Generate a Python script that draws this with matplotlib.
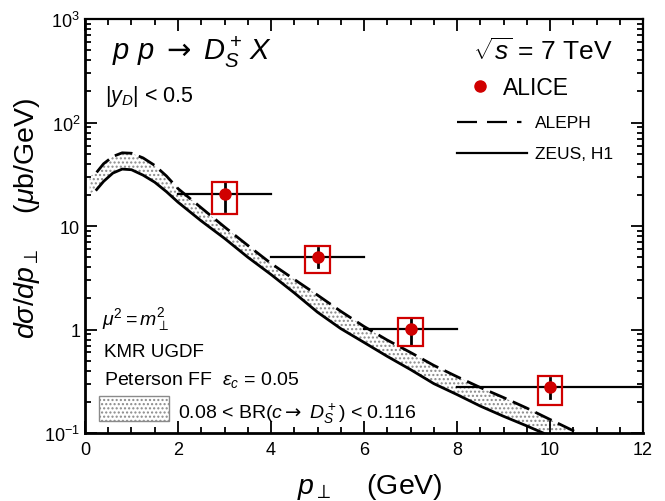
import matplotlib
matplotlib.use("Agg")
import matplotlib.pyplot as plt
from matplotlib.patches import Rectangle
from matplotlib.lines import Line2D
from matplotlib.ticker import FixedLocator, FixedFormatter, LogLocator, NullFormatter, MultipleLocator

plt.rcParams['font.family'] = ['Liberation Sans', 'DejaVu Sans']
plt.rcParams['mathtext.fontset'] = 'custom'
plt.rcParams['mathtext.rm'] = 'Liberation Sans'
plt.rcParams['mathtext.it'] = 'Liberation Sans:italic'
plt.rcParams['mathtext.bf'] = 'Liberation Sans:bold'
plt.rcParams['mathtext.sf'] = 'DejaVu Sans'
plt.rcParams['hatch.linewidth'] = 1.0

# ---------------- data ----------------
# ALEPH (dashed) curve
aleph_x = [0.25, 0.4, 0.6, 0.8, 1.0, 1.25, 1.5, 1.75, 2.0, 2.5, 3.0, 3.5, 4.0, 4.5, 5.0, 5.5, 6.0, 6.5, 7.0, 7.5, 8.0, 8.5, 9.0, 9.5, 10.0, 10.6]
aleph_y = [33, 40, 47, 51, 50.5, 45.5, 38.5, 30.5, 23.0, 15.0, 9.8, 6.5, 4.35, 3.05, 2.15, 1.5, 1.07, 0.79, 0.6, 0.45, 0.35, 0.275, 0.22, 0.174, 0.135, 0.1]
# ZEUS, H1 (solid) curve
zeus_x = [0.25, 0.4, 0.6, 0.8, 1.0, 1.25, 1.5, 1.75, 2.0, 2.5, 3.0, 3.5, 4.0, 4.5, 5.0, 5.5, 6.0, 6.5, 7.0, 7.5, 8.0, 8.5, 9.0, 9.5, 9.85]
zeus_y = [22.5, 27, 32.5, 35.5, 35, 31, 26.5, 21.5, 17.0, 11.2, 7.6, 5.0, 3.4, 2.26, 1.47, 1.02, 0.75, 0.55, 0.41, 0.30, 0.235, 0.182, 0.145, 0.117, 0.1]
# BR uncertainty band (0.08 < BR < 0.116)
band_x = [0.1, 0.25, 0.4, 0.6, 0.8, 1.0, 1.25, 1.5, 1.75, 2.0, 2.5, 3.0, 3.5, 4.0, 4.5, 5.0, 5.5, 6.0, 6.5, 7.0, 7.5, 8.0, 8.5, 9.0, 9.5, 9.85, 10.0, 10.6]
band_hi = [30, 33, 40, 47, 51, 50.5, 45.5, 38.5, 30.5, 23.0, 15.0, 9.8, 6.5, 4.35, 3.05, 2.15, 1.5, 1.07, 0.79, 0.6, 0.45, 0.35, 0.275, 0.22, 0.174, 0.148, 0.135, 0.1]
band_lo = [20.5, 22.5, 27, 32.5, 35.5, 35, 31, 26.5, 21.5, 17.0, 11.2, 7.6, 5.0, 3.4, 2.26, 1.47, 1.02, 0.75, 0.55, 0.41, 0.30, 0.235, 0.182, 0.145, 0.117, 0.1, 0.1, 0.1]

# ALICE data
alice_pt = [3, 5, 7, 10]
alice_bin_lo = [2, 4, 6, 8]
alice_bin_hi = [4, 6, 8, 12]
alice_val = [20.5, 5.0, 1.01, 0.28]
alice_stat_lo = [14.0, 4.0, 0.72, 0.218]
alice_stat_hi = [26.0, 6.1, 1.29, 0.34]
alice_sys_lo = [13.2, 3.5, 0.70, 0.187]
alice_sys_hi = [26.5, 6.4, 1.30, 0.356]
sys_halfwidth = 0.26

xticks = [0, 2, 4, 6, 8, 10, 12]
yticks = [0.1, 1, 10, 100, 1000]
ytick_labels = ['$10^{-1}$', '1', '10', '$10^{2}$', '$10^{3}$']

RED = '#d00000'

fig = plt.figure(figsize=(6.65, 5.02), dpi=100)
ax = fig.add_axes([0.1278, 0.1355, 0.8392, 0.8245])

ax.set_yscale('log')
ax.set_xlim(0, 12)
ax.set_ylim(0.1, 1000)

# band
ax.fill_between(band_x, band_lo, band_hi, facecolor='white', edgecolor='#8a8a8a',
                hatch='....', linewidth=0, zorder=1)
# curves
ax.plot(aleph_x, aleph_y, color='black', lw=2.0, dashes=(6.5, 2.5), zorder=3)
ax.plot(zeus_x, zeus_y, color='black', lw=2.0, zorder=3)

# ALICE
for x, y, lo, hi, slo, shi in zip(alice_pt, alice_val, alice_bin_lo, alice_bin_hi, alice_sys_lo, alice_sys_hi):
    ax.plot([lo, hi], [y, y], color='black', lw=1.6, zorder=4)
    ax.add_patch(Rectangle((x - sys_halfwidth, slo), 2 * sys_halfwidth, shi - slo,
                           facecolor='none', edgecolor=RED, lw=1.6, zorder=5))
for x, lo, hi in zip(alice_pt, alice_stat_lo, alice_stat_hi):
    ax.plot([x, x], [lo, hi], color='black', lw=2.0, zorder=4)
ax.plot(alice_pt, alice_val, 'o', color=RED, ms=8, zorder=6)

# ticks
ax.xaxis.set_major_locator(FixedLocator(xticks))
ax.xaxis.set_minor_locator(MultipleLocator(0.5))
ax.yaxis.set_major_locator(FixedLocator(yticks))
ax.yaxis.set_major_formatter(FixedFormatter(ytick_labels))
ax.yaxis.set_minor_locator(LogLocator(base=10, subs=range(2, 10)))
ax.yaxis.set_minor_formatter(NullFormatter())
ax.tick_params(which='both', direction='in', top=True, right=True, labelsize=13, width=1.3)
ax.tick_params(which='major', length=8.5)
ax.tick_params(which='minor', length=4.3)
ax.tick_params(axis='x', pad=6)
for side in ['left', 'bottom']:
    ax.spines[side].set_linewidth(2.0)
for side in ['top', 'right']:
    ax.spines[side].set_linewidth(1.6)

ax.set_xlabel(r'$p_\perp$    (GeV)', fontsize=20.5, va='top')
ax.xaxis.set_label_coords(0.51, -0.093)
ax.set_ylabel(r'$d\sigma/dp_\perp$    ($\mu$b/GeV)', fontsize=20.5)
ax.yaxis.set_label_coords(-0.077, 0.52)

# texts
ax.text(0.048, 0.903, r'$p\ p\ \mathsf{\rightarrow}\ D_S^+\,X$', transform=ax.transAxes, fontsize=21, va='baseline')
ax.text(0.036, 0.802, r'$|y_D|$ < 0.5', transform=ax.transAxes, fontsize=15.5, va='baseline')
ax.text(0.695, 0.903, r'$\sqrt{s}$ = 7 TeV', transform=ax.transAxes, fontsize=19, va='baseline')
ax.plot([0.708], [0.838], 'o', color=RED, ms=8, transform=ax.transAxes, clip_on=False)
ax.text(0.749, 0.819, 'ALICE', transform=ax.transAxes, fontsize=16.5, va='baseline')
ax.add_line(Line2D([0.667, 0.792], [0.751, 0.751], color='black', lw=1.6,
                   dashes=(9, 4.5, 9, 4.5, 2, 10), transform=ax.transAxes))
ax.text(0.806, 0.751, 'ALEPH', transform=ax.transAxes, fontsize=12.5, va='center')
ax.add_line(Line2D([0.667, 0.792], [0.676, 0.676], color='black', lw=1.6, transform=ax.transAxes))
ax.text(0.806, 0.676, 'ZEUS, H1', transform=ax.transAxes, fontsize=12.5, va='center')

ax.text(0.030, 0.263, r'$\mu^2 = m_\perp^2$', transform=ax.transAxes, fontsize=14, va='baseline')
ax.text(0.034, 0.186, 'KMR UGDF', transform=ax.transAxes, fontsize=13.5, va='baseline')
ax.text(0.034, 0.118, r'Peterson FF  $\varepsilon_c$ = 0.05', transform=ax.transAxes, fontsize=14, va='baseline')
ax.add_patch(Rectangle((0.025, 0.029), 0.126, 0.060, transform=ax.transAxes,
                       facecolor='white', edgecolor='#8a8a8a', hatch='....', lw=1.0, zorder=2))
ax.text(0.167, 0.036, r'0.08 < BR($c\mathsf{\rightarrow}\ D_S^+$) < 0.116', transform=ax.transAxes,
        fontsize=14, va='baseline')

fig.savefig('out.png', dpi=100)
